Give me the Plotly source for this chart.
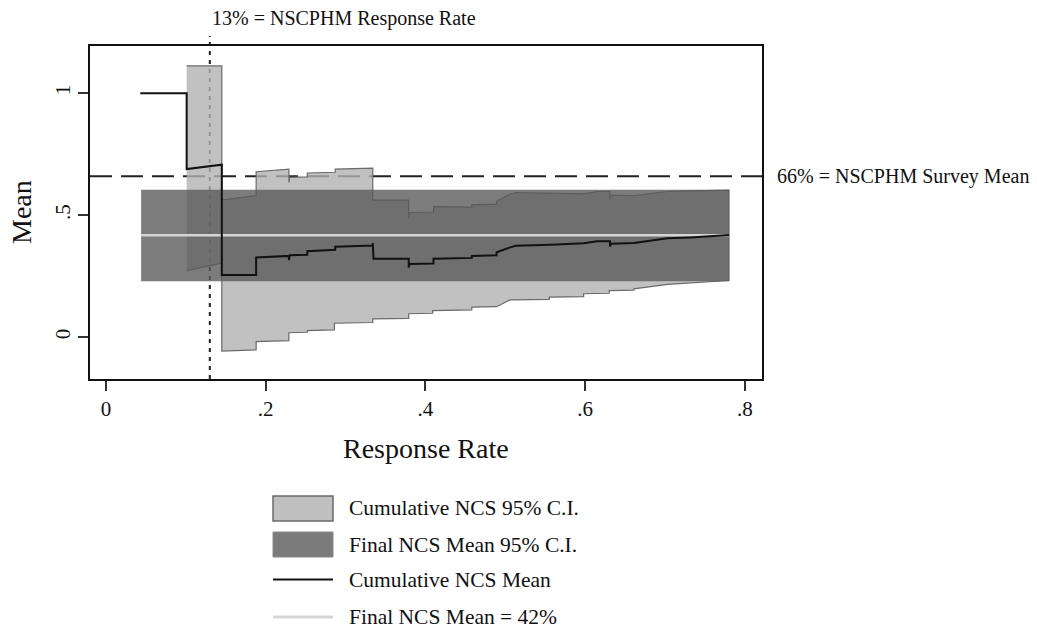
import plotly.graph_objects as go

# ---------------- data ----------------
# Cumulative NCS mean (step-like path)
cum_mean_x = [0.043, 0.101, 0.101, 0.145, 0.145, 0.188, 0.188, 0.229, 0.229, 0.230,
              0.252, 0.252, 0.287, 0.287, 0.334, 0.334, 0.335, 0.379, 0.379, 0.380,
              0.410, 0.410, 0.458, 0.458, 0.489, 0.489, 0.506, 0.513, 0.557, 0.598,
              0.615, 0.631, 0.631, 0.632, 0.661, 0.682, 0.703, 0.732, 0.753, 0.780]
cum_mean_y = [1.000, 1.000, 0.689, 0.707, 0.255, 0.255, 0.327, 0.333, 0.316, 0.336,
              0.338, 0.352, 0.358, 0.371, 0.376, 0.386, 0.321, 0.321, 0.285, 0.300,
              0.302, 0.321, 0.325, 0.333, 0.336, 0.348, 0.368, 0.375, 0.379, 0.385,
              0.393, 0.393, 0.372, 0.383, 0.386, 0.396, 0.405, 0.409, 0.413, 0.419]

# Cumulative NCS 95% C.I. upper bound
ci_up_x = [0.101, 0.145, 0.145, 0.188, 0.188, 0.229, 0.229, 0.230, 0.252, 0.252,
           0.287, 0.287, 0.334, 0.334, 0.379, 0.379, 0.380, 0.410, 0.410, 0.458,
           0.458, 0.489, 0.489, 0.506, 0.513, 0.557, 0.598, 0.615, 0.631, 0.631,
           0.632, 0.661, 0.682, 0.703, 0.732, 0.780]
ci_up_y = [1.112, 1.112, 0.562, 0.580, 0.678, 0.689, 0.634, 0.655, 0.657, 0.673,
           0.676, 0.689, 0.693, 0.562, 0.562, 0.487, 0.511, 0.513, 0.535, 0.533,
           0.542, 0.545, 0.557, 0.587, 0.593, 0.589, 0.587, 0.597, 0.598, 0.566,
           0.582, 0.580, 0.589, 0.597, 0.600, 0.603]

# Cumulative NCS 95% C.I. lower bound
ci_lo_x = [0.101, 0.145, 0.145, 0.188, 0.188, 0.229, 0.229, 0.252, 0.252, 0.286,
           0.286, 0.334, 0.334, 0.379, 0.379, 0.409, 0.409, 0.458, 0.458, 0.489,
           0.506, 0.555, 0.555, 0.598, 0.598, 0.630, 0.630, 0.661, 0.661, 0.703,
           0.732, 0.749, 0.780]
ci_lo_y = [0.273, 0.303, -0.057, -0.052, -0.018, -0.014, 0.018, 0.020, 0.027, 0.030,
           0.057, 0.060, 0.075, 0.077, 0.096, 0.098, 0.109, 0.112, 0.123, 0.125,
           0.153, 0.155, 0.164, 0.166, 0.178, 0.180, 0.191, 0.193, 0.198, 0.216,
           0.223, 0.225, 0.232]

# Final NCS mean and its 95% C.I.
final_x_range = [0.044, 0.780]
final_ci = [0.229, 0.604]
final_mean = 0.418

# Reference values
nscphm_response_rate = 0.13
nscphm_survey_mean = 0.66

x_ticks = [0, 0.2, 0.4, 0.6, 0.8]
x_tick_labels = ["0", ".2", ".4", ".6", ".8"]
y_ticks = [0, 0.5, 1]
y_tick_labels = ["0", ".5", "1"]

legend_labels = ["Cumulative NCS 95% C.I.", "Final NCS Mean 95% C.I.",
                 "Cumulative NCS Mean", "Final NCS Mean = 42%"]

# ---------------- layout constants ----------------
W, H = 1037, 635
L, R, T, B = 90, 762, 46, 379
X_RANGE = [-0.02, 0.8213]
Y_RANGE = [-0.1715, 1.1935]
FONT = "Liberation Serif, Times New Roman, serif"

def px_x(p):
    return (p - L) / (R - L)

def px_y(p):
    return (B - p) / (B - T)

def dx_paper(v):
    return (v - X_RANGE[0]) / (X_RANGE[1] - X_RANGE[0])

def dy_paper(v):
    return (v - Y_RANGE[0]) / (Y_RANGE[1] - Y_RANGE[0])

LIGHT_FILL = "rgba(178,178,178,0.80)"
LIGHT_EDGE = "#6a6a6a"
DARK_FILL = "rgba(89,89,89,0.79)"
FINAL_LINE = "#d4d4d4"

fig = go.Figure()

# Cumulative C.I. polygon
fig.add_trace(go.Scatter(
    x=ci_up_x + ci_lo_x[::-1],
    y=ci_up_y + ci_lo_y[::-1],
    mode="lines", fill="toself", fillcolor=LIGHT_FILL,
    line=dict(color=LIGHT_EDGE, width=1.2),
    name=legend_labels[0], showlegend=False, hoverinfo="skip"))

# Final mean C.I. band
fig.add_trace(go.Scatter(
    x=[final_x_range[0], final_x_range[1], final_x_range[1], final_x_range[0], final_x_range[0]],
    y=[final_ci[0], final_ci[0], final_ci[1], final_ci[1], final_ci[0]],
    mode="lines", fill="toself", fillcolor=DARK_FILL,
    line=dict(width=0, color="rgba(0,0,0,0)"),
    name=legend_labels[1], showlegend=False, hoverinfo="skip"))

# Final mean line
fig.add_trace(go.Scatter(
    x=final_x_range, y=[final_mean, final_mean], mode="lines",
    line=dict(color=FINAL_LINE, width=2.5),
    name=legend_labels[3], showlegend=False))

# Cumulative mean
fig.add_trace(go.Scatter(
    x=cum_mean_x, y=cum_mean_y, mode="lines",
    line=dict(color="#111111", width=2),
    name=legend_labels[2], showlegend=False))

shapes = []
# reference lines (beneath the shaded areas)
xv = dx_paper(nscphm_response_rate)
shapes.append(dict(type="line", xref="paper", yref="paper", layer="below",
                   x0=xv, x1=xv, y0=0, y1=px_y(36),
                   line=dict(color="#222222", width=2, dash="4px,5px")))
yh = dy_paper(nscphm_survey_mean)
shapes.append(dict(type="line", xref="paper", yref="paper", layer="below",
                   x0=0, x1=px_x(771), y0=yh, y1=yh,
                   line=dict(color="#222222", width=2, dash="22px,9px")))

# manual legend
shapes.append(dict(type="rect", xref="paper", yref="paper",
                   x0=px_x(273), x1=px_x(333), y0=px_y(496), y1=px_y(521),
                   fillcolor="#c0c0c0", line=dict(color=LIGHT_EDGE, width=1.5)))
shapes.append(dict(type="rect", xref="paper", yref="paper",
                   x0=px_x(273), x1=px_x(333), y0=px_y(532), y1=px_y(557),
                   fillcolor="#7b7b7b", line=dict(color="#8a8a8a", width=1)))
shapes.append(dict(type="line", xref="paper", yref="paper",
                   x0=px_x(273), x1=px_x(333), y0=px_y(579.5), y1=px_y(579.5),
                   line=dict(color="#111111", width=2)))
shapes.append(dict(type="line", xref="paper", yref="paper",
                   x0=px_x(273), x1=px_x(333), y0=px_y(617), y1=px_y(617),
                   line=dict(color="#d6d6d6", width=3)))

annotations = []
for lab, ypx in zip(legend_labels, [508, 545, 580, 617]):
    annotations.append(dict(text=lab, xref="paper", yref="paper",
                            x=px_x(347), y=px_y(ypx), xanchor="left", yanchor="middle",
                            showarrow=False, font=dict(family=FONT, size=21.5, color="#111111")))

annotations.append(dict(text="13% = NSCPHM Response Rate", xref="x", yref="paper",
                        x=nscphm_response_rate, xshift=0, y=px_y(19),
                        xanchor="left", yanchor="middle", showarrow=False,
                        font=dict(family=FONT, size=20, color="#111111")))
annotations.append(dict(text="66% = NSCPHM Survey Mean", xref="paper", yref="y",
                        x=px_x(775), y=nscphm_survey_mean,
                        xanchor="left", yanchor="middle", showarrow=False,
                        font=dict(family=FONT, size=20, color="#111111")))
# axis titles
annotations.append(dict(text="Mean", xref="paper", yref="paper",
                        x=px_x(21), y=px_y(212), textangle=-90,
                        xanchor="center", yanchor="middle", showarrow=False,
                        font=dict(family=FONT, size=28, color="#111111")))
annotations.append(dict(text="Response Rate", xref="paper", yref="paper",
                        x=0.5, y=px_y(448),
                        xanchor="center", yanchor="middle", showarrow=False,
                        font=dict(family=FONT, size=28, color="#111111")))

fig.update_layout(
    width=W, height=H,
    margin=dict(l=L, r=W - R, t=T, b=H - B, pad=0),
    paper_bgcolor="white", plot_bgcolor="rgba(0,0,0,0)",
    showlegend=False,
    shapes=shapes, annotations=annotations,
    font=dict(family=FONT, color="#111111"),
)
fig.update_xaxes(range=X_RANGE, tickvals=x_ticks, ticktext=x_tick_labels,
                 showgrid=False, zeroline=False, showline=True, mirror=True,
                 linecolor="#111111", linewidth=2, ticks="outside", ticklen=10,
                 tickwidth=1.5, tickcolor="#333333",
                 tickfont=dict(family=FONT, size=21, color="#111111"))
fig.update_yaxes(range=Y_RANGE, tickvals=y_ticks, ticktext=y_tick_labels,
                 showgrid=False, zeroline=False, showline=True, mirror=True,
                 linecolor="#111111", linewidth=2, ticks="outside", ticklen=10,
                 tickwidth=1.5, tickcolor="#333333", tickangle=-90,
                 tickfont=dict(family=FONT, size=21, color="#111111"))

fig.write_html("out.html", config={"displayModeBar": False},
               post_script="document.body.style.margin='0';document.body.style.overflow='hidden';")
